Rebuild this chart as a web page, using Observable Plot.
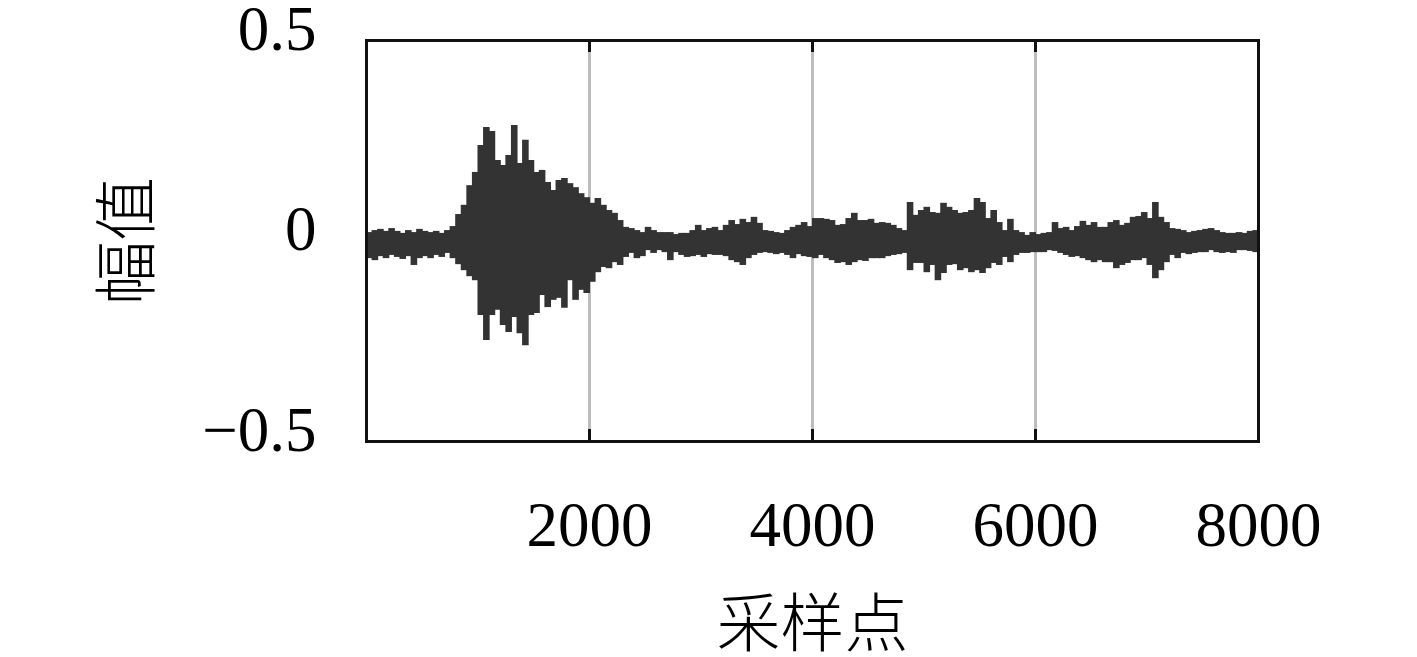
<!DOCTYPE html>
<html><head><meta charset="utf-8">
<script src="https://cdn.jsdelivr.net/npm/d3@7"></script>
<script src="https://cdn.jsdelivr.net/npm/@observablehq/plot@0.6"></script>
<style>body{margin:0;background:#fff}</style>
</head><body><div id="chart"></div>
<script>
// Waveform envelope, one value pair per 50-sample bin (160 bins over 0..8000)
const binSize = 50;
const hi = [
0.021,0.026,0.029,0.024,0.031,0.024,0.019,0.026,0.021,0.029,
0.024,0.021,0.024,0.019,0.026,0.036,0.066,0.089,0.138,0.171,
0.238,0.283,0.273,0.201,0.188,0.213,0.288,0.193,0.251,0.201,
0.171,0.176,0.146,0.126,0.151,0.156,0.143,0.133,0.118,0.108,
0.094,0.106,0.089,0.076,0.069,0.051,0.034,0.031,0.026,0.021,
0.034,0.026,0.021,0.021,0.021,0.016,0.019,0.019,0.026,0.039,
0.026,0.031,0.034,0.026,0.039,0.051,0.041,0.054,0.046,0.059,
0.044,0.026,0.024,0.021,0.019,0.026,0.034,0.039,0.046,0.036,
0.056,0.056,0.054,0.051,0.039,0.041,0.056,0.069,0.051,0.051,
0.054,0.044,0.046,0.044,0.039,0.031,0.026,0.096,0.064,0.076,
0.084,0.071,0.069,0.094,0.084,0.076,0.069,0.071,0.076,0.106,
0.096,0.056,0.076,0.046,0.026,0.054,0.026,0.021,0.014,0.021,
0.016,0.019,0.021,0.046,0.031,0.034,0.026,0.036,0.049,0.039,
0.046,0.034,0.034,0.046,0.051,0.039,0.044,0.059,0.061,0.071,
0.056,0.096,0.059,0.046,0.031,0.029,0.026,0.021,0.024,0.026,
0.029,0.031,0.026,0.021,0.019,0.019,0.021,0.019,0.024,0.026
];
const lo = [
-0.044,-0.049,-0.039,-0.044,-0.036,-0.041,-0.046,-0.039,-0.061,-0.044,
-0.039,-0.044,-0.036,-0.041,-0.031,-0.044,-0.059,-0.074,-0.089,-0.099,
-0.186,-0.248,-0.186,-0.173,-0.211,-0.228,-0.191,-0.231,-0.261,-0.186,
-0.181,-0.136,-0.166,-0.148,-0.143,-0.168,-0.099,-0.148,-0.123,-0.131,
-0.103,-0.079,-0.066,-0.069,-0.054,-0.061,-0.041,-0.031,-0.044,-0.039,
-0.024,-0.031,-0.024,-0.029,-0.049,-0.029,-0.036,-0.041,-0.039,-0.036,
-0.041,-0.034,-0.036,-0.036,-0.039,-0.049,-0.054,-0.061,-0.044,-0.036,
-0.031,-0.029,-0.031,-0.034,-0.031,-0.036,-0.044,-0.034,-0.039,-0.041,
-0.044,-0.036,-0.044,-0.049,-0.056,-0.054,-0.061,-0.054,-0.049,-0.051,
-0.044,-0.044,-0.044,-0.039,-0.036,-0.034,-0.031,-0.074,-0.056,-0.056,
-0.079,-0.061,-0.099,-0.081,-0.061,-0.059,-0.074,-0.069,-0.079,-0.074,
-0.081,-0.069,-0.056,-0.061,-0.041,-0.054,-0.036,-0.031,-0.031,-0.029,
-0.029,-0.029,-0.024,-0.026,-0.031,-0.036,-0.041,-0.039,-0.044,-0.049,
-0.054,-0.049,-0.054,-0.054,-0.069,-0.061,-0.056,-0.049,-0.049,-0.044,
-0.061,-0.094,-0.074,-0.054,-0.036,-0.044,-0.031,-0.034,-0.031,-0.029,
-0.029,-0.024,-0.029,-0.031,-0.029,-0.031,-0.024,-0.024,-0.026,-0.029
];
const xDomain = [0, 8000];
const yDomain = [-0.5, 0.5];
const xTicks = [2000, 4000, 6000, 8000];
const gridX = [2000, 4000, 6000];
const yTicks = [-0.5, 0, 0.5];
const yTickLabels = ["\u22120.5", "0", "0.5"];
const xLabel = "采样点";
const yLabel = "幅值";

const data = hi.map((h, i) => ({x: i * binSize + binSize / 2, hi: h, lo: lo[i]}));

const chart = Plot.plot({
  width: 1417, height: 657,
  marginTop: 40, marginBottom: 216, marginLeft: 366, marginRight: 159,
  x: {domain: xDomain},
  y: {domain: yDomain},
  style: {fontFamily: "'Liberation Serif', serif", background: "#fff", color: "#000"},
  marks: [
    Plot.ruleX(gridX, {stroke: "#bdbdbd", strokeWidth: 3}),
    Plot.ruleX(data, {x: "x", y1: "lo", y2: "hi", stroke: "#333", strokeWidth: 6.6}),
    Plot.tickX(gridX, {stroke: "#111", strokeWidth: 3, insetBottom: 389}),
    Plot.tickX(gridX, {stroke: "#111", strokeWidth: 3, insetTop: 389}),
    Plot.frame({stroke: "#111", strokeWidth: 3}),
    Plot.axisX(xTicks, {tickSize: 0, tickPadding: 60, fontSize: 63, label: null, tickFormat: d => String(d)}),
    Plot.axisY(yTicks, {tickSize: 0, tickPadding: 50, fontSize: 63, label: null, dy: -11,
      tickFormat: d => yTickLabels[yTicks.indexOf(d)]}),
    Plot.text([yLabel], {frameAnchor: "left", dx: -238, rotate: -90, fontSize: 64,
      textAnchor: "middle", lineAnchor: "middle",
      fontFamily: "'Noto Sans CJK SC', sans-serif", fontWeight: 300, fill: "#000"}),
    Plot.text([xLabel], {frameAnchor: "bottom", dy: 184, fontSize: 64,
      textAnchor: "middle", lineAnchor: "middle",
      fontFamily: "'Noto Sans CJK SC', sans-serif", fontWeight: 300, fill: "#000"})
  ]
});
document.getElementById("chart").append(chart);
</script>
</body></html>
